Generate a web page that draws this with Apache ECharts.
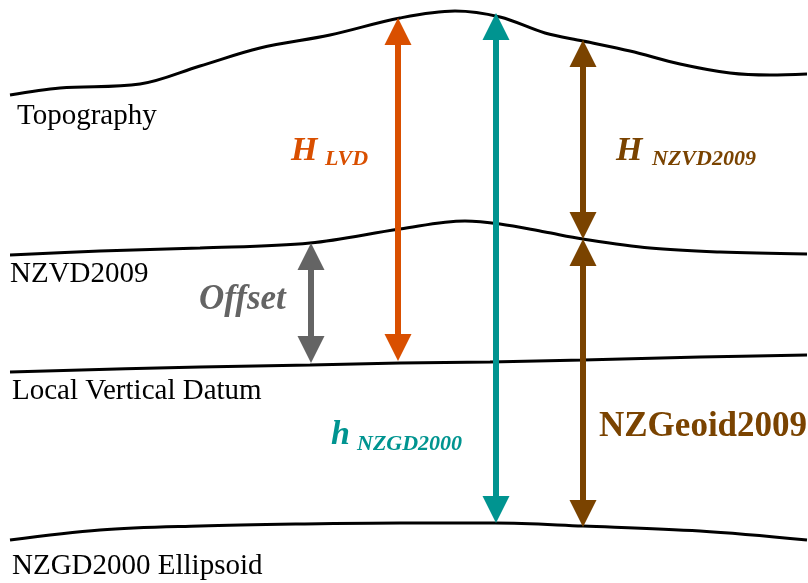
<!DOCTYPE html>
<html><head><meta charset="utf-8">
<script src="https://cdn.jsdelivr.net/npm/echarts@6/dist/echarts.min.js"></script>
<style>html,body{margin:0;padding:0;background:#fff}#c{width:808px;height:583px}</style>
</head><body><div id="c"></div>
<script>
// Surface profiles (x, depth-from-top)
const topography = [[10,95],[60,88],[140,84],[200,66],[260,48],[330,35],[400,18],[455,11],[500,17],[545,33],[583,41],[630,51],[680,64],[730,73],[770,75],[807,74]];
const nzvd2009 = [[10,255],[100,251],[200,248],[310,243],[400,229],[465,221],[500,224],[545,232],[583,239],[650,248],[720,252],[807,254]];
const localVerticalDatum = [[10,372],[200,367],[310,365],[400,363],[490,362],[583,360],[700,357],[807,355]];
const ellipsoid = [[10,540],[100,530],[200,526],[300,524],[400,523],[495,523],[583,526],[700,531],[807,540]];

// Arrows
const arrowNames = ['H_LVD','h_NZGD2000','H_NZVD2009','NZGeoid2009','Offset'];
const arrowX = [398, 496, 583, 583, 311];
const arrowTop = [18, 13, 40, 239, 243];
const arrowBottom = [361, 523, 239, 527, 363];

const COLORS = {H_LVD:'#D94F00', h_NZGD2000:'#009490', H_NZVD2009:'#7A4300', NZGeoid2009:'#7A4300', Offset:'#646464'};
const SERIF = '"Liberation Serif","Times New Roman",serif';

const arrowData = arrowNames.map((n,i)=>({name:n, value:[arrowX[i], arrowTop[i], arrowBottom[i]]}));

function curve(name, data){
  return {name, type:'line', data, smooth:0.35, symbol:'none', silent:true,
    lineStyle:{color:'#000', width:3}, z:2};
}

const chart = echarts.init(document.getElementById('c'), null, {renderer:'canvas'});
chart.setOption({
  backgroundColor:'#fff',
  animation:false,
  grid:{left:0,right:0,top:0,bottom:0},
  xAxis:{type:'value',min:0,max:808,show:false},
  yAxis:{type:'value',min:0,max:583,inverse:true,show:false},
  series:[
    curve('Topography', topography),
    curve('NZVD2009', nzvd2009),
    curve('Local Vertical Datum', localVerticalDatum),
    curve('NZGD2000 Ellipsoid', ellipsoid),
    {type:'custom', data:arrowData, z:3, silent:true,
     renderItem:function(params, api){
       const c = COLORS[arrowNames[params.dataIndex]];
       const p1 = api.coord([api.value(0), api.value(1)]);
       const p2 = api.coord([api.value(0), api.value(2)]);
       const L = 27, W = 13.5;
       return {type:'group', children:[
         {type:'line', shape:{x1:p1[0],y1:p1[1]+L-2,x2:p2[0],y2:p2[1]-L+2}, style:{stroke:c,lineWidth:6}},
         {type:'polygon', shape:{points:[[p1[0],p1[1]],[p1[0]-W,p1[1]+L],[p1[0]+W,p1[1]+L]]}, style:{fill:c}},
         {type:'polygon', shape:{points:[[p2[0],p2[1]],[p2[0]-W,p2[1]-L],[p2[0]+W,p2[1]-L]]}, style:{fill:c}}
       ]};
     }}
  ],
  graphic:[
    {type:'text', left:17, top:102, style:{text:'Topography', font:'29px '+SERIF, fill:'#000'}},
    {type:'text', left:10, top:260, style:{text:'NZVD2009', font:'29px '+SERIF, fill:'#000'}},
    {type:'text', left:12, top:377, style:{text:'Local Vertical Datum', font:'29px '+SERIF, fill:'#000'}},
    {type:'text', left:12, top:552, style:{text:'NZGD2000 Ellipsoid', font:'29px '+SERIF, fill:'#000'}},
    {type:'text', left:291, top:134, style:{text:'H', font:'italic bold 34px '+SERIF, fill:COLORS.H_LVD}},
    {type:'text', left:325, top:148, style:{text:'LVD', font:'italic bold 22px '+SERIF, fill:COLORS.H_LVD}},
    {type:'text', left:616, top:134, style:{text:'H', font:'italic bold 34px '+SERIF, fill:COLORS.H_NZVD2009}},
    {type:'text', left:652, top:148, style:{text:'NZVD2009', font:'italic bold 22px '+SERIF, fill:COLORS.H_NZVD2009}},
    {type:'text', left:199, top:282, style:{text:'Offset', font:'italic bold 35px '+SERIF, fill:COLORS.Offset}},
    {type:'text', left:331, top:418, style:{text:'h', font:'italic bold 34px '+SERIF, fill:COLORS.h_NZGD2000}},
    {type:'text', left:357, top:433, style:{text:'NZGD2000', font:'italic bold 22px '+SERIF, fill:COLORS.h_NZGD2000}},
    {type:'text', left:599, top:409, style:{text:'NZGeoid2009', font:'bold 35px '+SERIF, fill:COLORS.NZGeoid2009}}
  ]
});
</script></body></html>
